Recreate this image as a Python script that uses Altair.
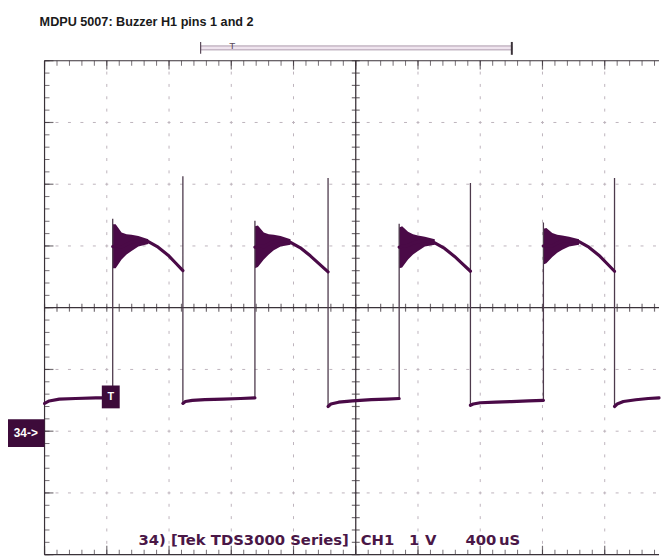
import altair as alt
import pandas as pd
import numpy as np

# Oscilloscope capture: 400 us/div (x, microseconds), 1 V/div (y, volts, ground = 0 V)
X_MAX = 3949          # visible part of the 10-division screen
Y_MIN, Y_MAX = -2, 6
W, H = 622, 500

# ---- trace (CH1) ----
trace_t = [0, 30, 95, 200, 330, 438,
           438,
           438, 460, 495, 530, 559, 603, 667, 730, 794, 844, 889,
           889,
           889, 905, 950, 1030, 1150, 1260, 1352,
           1352,
           1352, 1375, 1410, 1445, 1473, 1517, 1581, 1644, 1708, 1765, 1822,
           1822,
           1822, 1840, 1890, 1980, 2100, 2200, 2279,
           2279,
           2279, 2300, 2337, 2370, 2400, 2444, 2508, 2571, 2635, 2686, 2737,
           2737,
           2737, 2755, 2800, 2900, 3000, 3110, 3206,
           3206,
           3206, 3230, 3263, 3300, 3327, 3371, 3435, 3498, 3562, 3613, 3663,
           3663,
           3663, 3680, 3720, 3800, 3880, 3949]
trace_v = [0.45, 0.49, 0.52, 0.53, 0.54, 0.54,
           3.44,
           2.99, 3.00, 2.98, 3.03, 3.06, 3.09, 3.07, 2.98, 2.85, 2.72, 2.60,
           4.13,
           0.45, 0.48, 0.50, 0.51, 0.52, 0.53, 0.54,
           3.41,
           2.98, 3.00, 2.99, 3.04, 3.07, 3.09, 3.06, 2.97, 2.84, 2.71, 2.58,
           4.10,
           0.40, 0.44, 0.47, 0.49, 0.51, 0.52, 0.53,
           3.36,
           2.98, 3.00, 3.01, 3.05, 3.07, 3.08, 3.05, 2.96, 2.83, 2.71, 2.59,
           4.02,
           0.42, 0.44, 0.46, 0.47, 0.48, 0.49, 0.50,
           3.38,
           3.00, 3.01, 3.00, 3.05, 3.08, 3.09, 3.07, 2.98, 2.85, 2.72, 2.59,
           4.10,
           0.40, 0.44, 0.48, 0.51, 0.53, 0.54]
trace_seg = (["low0"] * 6 + ["edge"] + ["high1"] * 11 + ["edge"] +
             ["low1"] * 7 + ["edge"] + ["high2"] * 11 + ["edge"] +
             ["low2"] * 7 + ["edge"] + ["high3"] * 11 + ["edge"] +
             ["low3"] * 7 + ["edge"] + ["high4"] * 11 + ["edge"] +
             ["low4"] * 6)

# ---- ringing envelope after each rising edge ----
band_t = [438, 457, 495, 527, 559, 603, 667,
          1352, 1371, 1409, 1441, 1473, 1517, 1581,
          2279, 2298, 2336, 2368, 2400, 2444, 2508,
          3206, 3225, 3263, 3295, 3327, 3371, 3435]
band_hi = [3.35, 3.35, 3.22, 3.19, 3.18, 3.16, 3.11,
           3.32, 3.33, 3.22, 3.19, 3.18, 3.16, 3.11,
           3.30, 3.32, 3.23, 3.19, 3.17, 3.15, 3.11,
           3.28, 3.29, 3.21, 3.18, 3.17, 3.15, 3.11]
band_lo = [2.64, 2.64, 2.78, 2.86, 2.92, 2.99, 3.03,
           2.64, 2.66, 2.78, 2.86, 2.93, 2.99, 3.02,
           2.64, 2.65, 2.78, 2.86, 2.92, 2.99, 3.02,
           2.70, 2.72, 2.82, 2.89, 2.94, 2.99, 3.02]
band_id = [1] * 7 + [2] * 7 + [3] * 7 + [4] * 7

# ---- graticule ----
grid_t = [400, 800, 1200, 1600, 2400, 2800, 3200, 3600]
grid_v = [-1, 0, 1, 3, 4, 5]
major_t = [0, 400, 800, 1200, 1600, 2000, 2400, 2800, 3200, 3600]
major_v = [-2, -1, 0, 1, 2, 3, 4, 5, 6]
minor_t = [float(t) for t in np.arange(0, X_MAX, 80)]
minor_v = [round(float(v), 1) for v in np.arange(-2, 6.01, 0.2)]
centre_t, centre_v = 2000, 2

# trigger marker box (us, V) and record-length bar (us)
trig_box = {"t1": [368], "t2": [483], "v1": [0.74], "v2": [0.37], "tm": [426], "vm": [0.555]}
record_start, record_end, trig_pos = 1003, 3003, 1206

title_text = "MDPU 5007: Buzzer H1 pins 1 and 2"
status_texts = ["34) [Tek TDS3000 Series]", "CH1", "1", "V", "400", "uS"]
status_x = [95, 320, 369, 385, 426, 460]
ground_label = "34->"

TRACE = "#4a0a47"
AXIS = "#3a3239"
GRID = "#bdb3bc"

xs = alt.Scale(domain=[0, X_MAX], nice=False, zero=False)
ys = alt.Scale(domain=[Y_MIN, Y_MAX], nice=False, zero=False)

trace = pd.DataFrame({"t": trace_t, "v": trace_v, "seg": trace_seg})
trace["i"] = range(len(trace))
band = pd.DataFrame({"t": band_t, "hi": band_hi, "lo": band_lo, "pulse": band_id})
gt = pd.DataFrame({"t": grid_t})
gv = pd.DataFrame({"v": grid_v})
mt = pd.DataFrame({"t": minor_t})
mv = pd.DataFrame({"v": minor_v})
Mt = pd.DataFrame({"t": major_t})
Mv = pd.DataFrame({"v": major_v})
ct = pd.DataFrame({"t": [centre_t]})
cv = pd.DataFrame({"v": [centre_v]})
one = pd.DataFrame({"k": [0]})
mt_c = pd.DataFrame({"t": minor_t, "v": [centre_v] * len(minor_t)})
mv_c = pd.DataFrame({"v": minor_v, "t": [centre_t] * len(minor_v)})
trig = pd.DataFrame(trig_box)
rec = pd.DataFrame({"t1": [record_start], "t2": [record_end], "tp": [trig_pos]})


def X(f="t"):
    return alt.X(f"{f}:Q", scale=xs, axis=None)


def Y(f="v"):
    return alt.Y(f"{f}:Q", scale=ys, axis=None)


layers = []
# dotted grid
layers.append(alt.Chart(gt).mark_rule(color=GRID, strokeWidth=1, strokeDash=[3, 9.5],
                                      strokeDashOffset=1.5)
              .encode(x=X(), y=alt.value(0), y2=alt.value(H)))
layers.append(alt.Chart(gv).mark_rule(color=GRID, strokeWidth=1, strokeDash=[3, 9.6],
                                      strokeDashOffset=1.5)
              .encode(y=Y(), x=alt.value(0), x2=alt.value(W)))
# borders
layers.append(alt.Chart(one).mark_rule(color=AXIS, strokeWidth=1.2)
              .encode(x=alt.value(0), y=alt.value(0), y2=alt.value(H)))
layers.append(alt.Chart(one).mark_rule(color=AXIS, strokeWidth=1.2)
              .encode(y=alt.value(0), x=alt.value(0), x2=alt.value(W)))
layers.append(alt.Chart(one).mark_rule(color=AXIS, strokeWidth=1.2)
              .encode(y=alt.value(H), x=alt.value(0), x2=alt.value(W)))
# centre cross
layers.append(alt.Chart(ct).mark_rule(color=AXIS, strokeWidth=1.3)
              .encode(x=X(), y=alt.value(0), y2=alt.value(H)))
layers.append(alt.Chart(cv).mark_rule(color=AXIS, strokeWidth=1.3)
              .encode(y=Y(), x=alt.value(0), x2=alt.value(W)))
# ticks on borders and centre cross
layers.append(alt.Chart(mt).mark_tick(orient="vertical", size=5, thickness=1, color=AXIS)
              .encode(x=X(), y=alt.value(2.5)))
layers.append(alt.Chart(mt).mark_tick(orient="vertical", size=5, thickness=1, color=AXIS)
              .encode(x=X(), y=alt.value(H - 2.5)))
layers.append(alt.Chart(mt_c).mark_tick(orient="vertical", size=8, thickness=1.2, color=AXIS)
              .encode(x=X(), y=Y()))
layers.append(alt.Chart(Mt).mark_tick(orient="vertical", size=9, thickness=1.2, color=AXIS)
              .encode(x=X(), y=alt.value(4.5)))
layers.append(alt.Chart(Mt).mark_tick(orient="vertical", size=9, thickness=1.2, color=AXIS)
              .encode(x=X(), y=alt.value(H - 4.5)))
layers.append(alt.Chart(mv).mark_tick(orient="horizontal", size=5, thickness=1, color=AXIS)
              .encode(y=Y(), x=alt.value(2.5)))
layers.append(alt.Chart(Mv).mark_tick(orient="horizontal", size=9, thickness=1.2, color=AXIS)
              .encode(y=Y(), x=alt.value(4.5)))
layers.append(alt.Chart(mv_c).mark_tick(orient="horizontal", size=8, thickness=1.2, color=AXIS)
              .encode(y=Y(), x=X()))

# trace
layers.append(alt.Chart(band).mark_area(color=TRACE, opacity=1)
              .encode(x=X(), y=Y("hi"), y2="lo:Q", detail="pulse:N"))
layers.append(alt.Chart(trace).mark_line(color="#4d3a4c", strokeWidth=1.3)
              .encode(x=X(), y=Y(), order="i:Q"))
layers.append(alt.Chart(trace).transform_filter(alt.datum.seg != "edge")
              .mark_line(color=TRACE, strokeWidth=3.2, strokeJoin="round", strokeCap="round")
              .encode(x=X(), y=Y(), detail="seg:N", order="i:Q"))

# trigger marker on the first rising edge
layers.append(alt.Chart(trig).mark_rect(color="#3d0b3a")
              .encode(x=X("t1"), x2="t2:Q", y=Y("v1"), y2="v2:Q"))
layers.append(alt.Chart(trig).mark_text(text="T", color="white", fontSize=11, fontWeight="bold",
                                        font="Liberation Sans")
              .encode(x=X("tm"), y=Y("vm")))

# ground marker
layers.append(alt.Chart(one).mark_rect(color="#3d0b3a")
              .encode(x=alt.value(-37), x2=alt.value(0), y=alt.value(363), y2=alt.value(391)))
layers.append(alt.Chart(one).mark_text(text=ground_label, color="white", fontSize=12,
                                       fontWeight="bold", font="Liberation Sans")
              .encode(x=alt.value(-19), y=alt.value(377)))

# record bar at top
layers.append(alt.Chart(rec).mark_rect(fill="#efe4ee", stroke="#9a8499", strokeWidth=0.8)
              .encode(x=X("t1"), x2="t2:Q", y=alt.value(-15), y2=alt.value(-11)))
layers.append(alt.Chart(rec).mark_rule(color="#5a4a59", strokeWidth=1.2)
              .encode(x=X("t1"), y=alt.value(-19), y2=alt.value(-7)))
layers.append(alt.Chart(rec).mark_rule(color="#3a3239", strokeWidth=2)
              .encode(x=X("t2"), y=alt.value(-19), y2=alt.value(-6)))
layers.append(alt.Chart(rec).mark_text(text="T", color="#5a4a59", fontSize=10,
                                       font="Liberation Sans")
              .encode(x=X("tp"), y=alt.value(-15)))

# texts
layers.append(alt.Chart(one).mark_text(text=title_text, align="left", baseline="middle",
                                       fontSize=12.8, fontWeight="bold", color="#1a1a1a",
                                       font="Liberation Sans")
              .encode(x=alt.value(-5), y=alt.value(-39)))
for txt, px in zip(status_texts, status_x):
    layers.append(alt.Chart(one).mark_text(text=txt, align="left", baseline="middle",
                                           fontSize=15, fontWeight="bold", color="#4a1747",
                                           font="DejaVu Sans")
                  .encode(x=alt.value(px), y=alt.value(485)))

chart = alt.layer(*layers).properties(
    width=W, height=H,
    autosize=alt.AutoSizeParams(type="none"),
    padding={"left": 37, "top": 50, "right": 2, "bottom": 1},
    background="white",
).configure_view(stroke=None)

chart.save("out.html", embed_options={"renderer": "svg", "actions": False})
